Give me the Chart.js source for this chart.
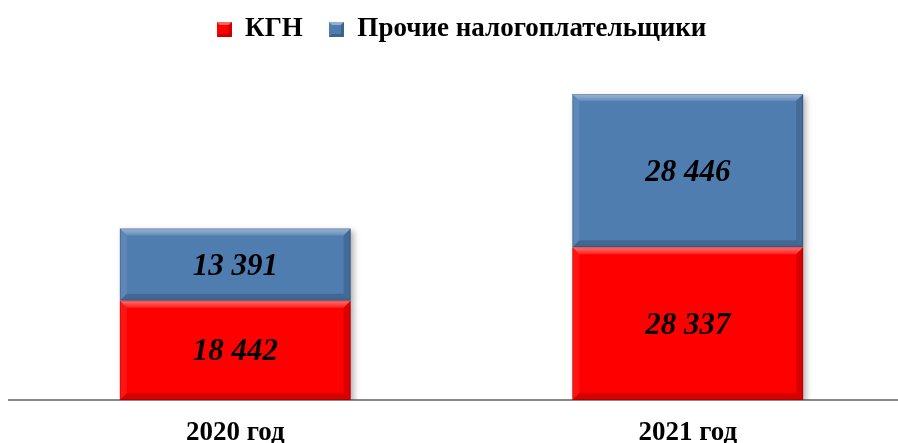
<!DOCTYPE html>
<html>
<head>
<meta charset="utf-8">
<script src="https://cdn.jsdelivr.net/npm/chart.js@4/dist/chart.umd.min.js"></script>
<style>
  html, body { margin: 0; padding: 0; background: #fff; overflow: hidden; }
  #wrap { width: 920px; height: 443px; position: relative; }
</style>
</head>
<body>
<div id="wrap"><canvas id="myChart"></canvas></div>
<script>
var categories = ["2020 год", "2021 год"];
var kgn = [18442, 28337];
var others = [13391, 28446];
var seriesNames = ["КГН", "Прочие налогоплательщики"];
var colors = ["#FF0000", "#4F7DB0"];

var serif = "'Liberation Serif', 'Times New Roman', serif";

function fmt(v) {
  return String(v).replace(/\B(?=(\d{3})+(?!\d))/g, " ");
}

// small bevelled square used as legend marker
function bevelSquare(color) {
  var c = document.createElement("canvas");
  c.width = 15; c.height = 15;
  var x = c.getContext("2d");
  x.fillStyle = color;
  x.fillRect(0, 0, 15, 15);
  x.fillStyle = "rgba(255,255,255,0.4)";
  x.beginPath(); x.moveTo(0, 0); x.lineTo(15, 0); x.lineTo(12, 3); x.lineTo(3, 3); x.closePath(); x.fill();
  x.fillStyle = "rgba(0,0,0,0.2)";
  x.beginPath(); x.moveTo(0, 15); x.lineTo(15, 15); x.lineTo(12, 12); x.lineTo(3, 12); x.closePath(); x.fill();
  x.beginPath(); x.moveTo(15, 0); x.lineTo(15, 15); x.lineTo(12, 12); x.lineTo(12, 3); x.closePath(); x.fill();
  return c;
}
var markers = colors.map(bevelSquare);

// bevel + shadow look of the bars
var bevelPlugin = {
  id: "bevel",
  beforeDatasetDraw: function (chart) {
    var ctx = chart.ctx;
    ctx.save();
    ctx.shadowColor = "rgba(0,0,0,0.3)";
    ctx.shadowBlur = 6;
    ctx.shadowOffsetX = 3;
    ctx.shadowOffsetY = 3;
  },
  afterDatasetDraw: function (chart, args) {
    var ctx = chart.ctx;
    ctx.restore();
    var b = 7;
    args.meta.data.forEach(function (bar) {
      var l = bar.x - bar.width / 2, r = bar.x + bar.width / 2;
      var t = Math.min(bar.y, bar.base), bt = Math.max(bar.y, bar.base);
      ctx.save();
      var g = ctx.createLinearGradient(0, t, 0, t + b);
      g.addColorStop(0, "rgba(255,255,255,0.45)");
      g.addColorStop(1, "rgba(255,255,255,0.12)");
      ctx.fillStyle = g;
      ctx.beginPath();
      ctx.moveTo(l, t); ctx.lineTo(r, t); ctx.lineTo(r - b, t + b); ctx.lineTo(l + b, t + b); ctx.closePath();
      ctx.fill();
      ctx.fillStyle = "rgba(255,255,255,0.08)";
      ctx.beginPath();
      ctx.moveTo(l, t); ctx.lineTo(l + b, t + b); ctx.lineTo(l + b, bt - b); ctx.lineTo(l, bt); ctx.closePath();
      ctx.fill();
      ctx.fillStyle = "rgba(0,0,0,0.14)";
      ctx.beginPath();
      ctx.moveTo(r, t); ctx.lineTo(r - b, t + b); ctx.lineTo(r - b, bt - b); ctx.lineTo(r, bt); ctx.closePath();
      ctx.fill();
      ctx.fillStyle = "rgba(0,0,0,0.16)";
      ctx.beginPath();
      ctx.moveTo(l, bt); ctx.lineTo(r, bt); ctx.lineTo(r - b, bt - b); ctx.lineTo(l + b, bt - b); ctx.closePath();
      ctx.fill();
      ctx.strokeStyle = "rgba(0,0,0,0.18)";
      ctx.lineWidth = 1;
      ctx.strokeRect(l + 0.5, t + 0.5, r - l - 1, bt - t - 1);
      ctx.restore();
    });
  }
};

var labelPlugin = {
  id: "valueLabels",
  afterDatasetsDraw: function (chart) {
    var ctx = chart.ctx;
    ctx.save();
    ctx.font = "italic bold 31px " + serif;
    ctx.fillStyle = "#000";
    ctx.textAlign = "center";
    ctx.textBaseline = "middle";
    chart.data.datasets.forEach(function (ds, i) {
      chart.getDatasetMeta(i).data.forEach(function (bar, j) {
        ctx.fillText(fmt(ds.data[j]), bar.x, (bar.y + bar.base) / 2 + 2);
      });
    });
    ctx.restore();
  }
};

var ctx = document.getElementById("myChart").getContext("2d");
var myChart = new Chart(ctx, {
  type: "bar",
  data: {
    labels: categories,
    datasets: [
      { label: seriesNames[0], data: kgn, backgroundColor: colors[0], borderWidth: 0 },
      { label: seriesNames[1], data: others, backgroundColor: colors[1], borderWidth: 0 }
    ]
  },
  options: {
    responsive: true,
    maintainAspectRatio: false,
    animation: false,
    layout: { padding: { left: 9, right: 6, top: -10, bottom: 0 } },
    datasets: { bar: { barPercentage: 0.51, categoryPercentage: 1 } },
    plugins: {
      tooltip: { enabled: false },
      legend: {
        position: "top",
        labels: {
          color: "#000",
          boxWidth: 15,
          boxHeight: 15,
          padding: 26,
          usePointStyle: true,
          pointStyleWidth: 15,
          font: { family: serif, size: 27, weight: "bold" },
          generateLabels: function (chart) {
            var items = Chart.defaults.plugins.legend.labels.generateLabels(chart);
            items.forEach(function (it, i) { it.pointStyle = markers[i]; });
            return items;
          }
        }
      }
    },
    scales: {
      x: {
        stacked: true,
        afterFit: function (scale) { scale.height = 43; },
        grid: { display: false, drawTicks: false },
        border: { display: true, color: "#888888", width: 2 },
        ticks: {
          color: "#000",
          padding: 17,
          font: { family: serif, size: 27, weight: "bold" }
        }
      },
      y: {
        stacked: true,
        display: false,
        min: 0,
        max: 64400
      }
    }
  },
  plugins: [bevelPlugin, labelPlugin]
});
</script>
</body>
</html>
